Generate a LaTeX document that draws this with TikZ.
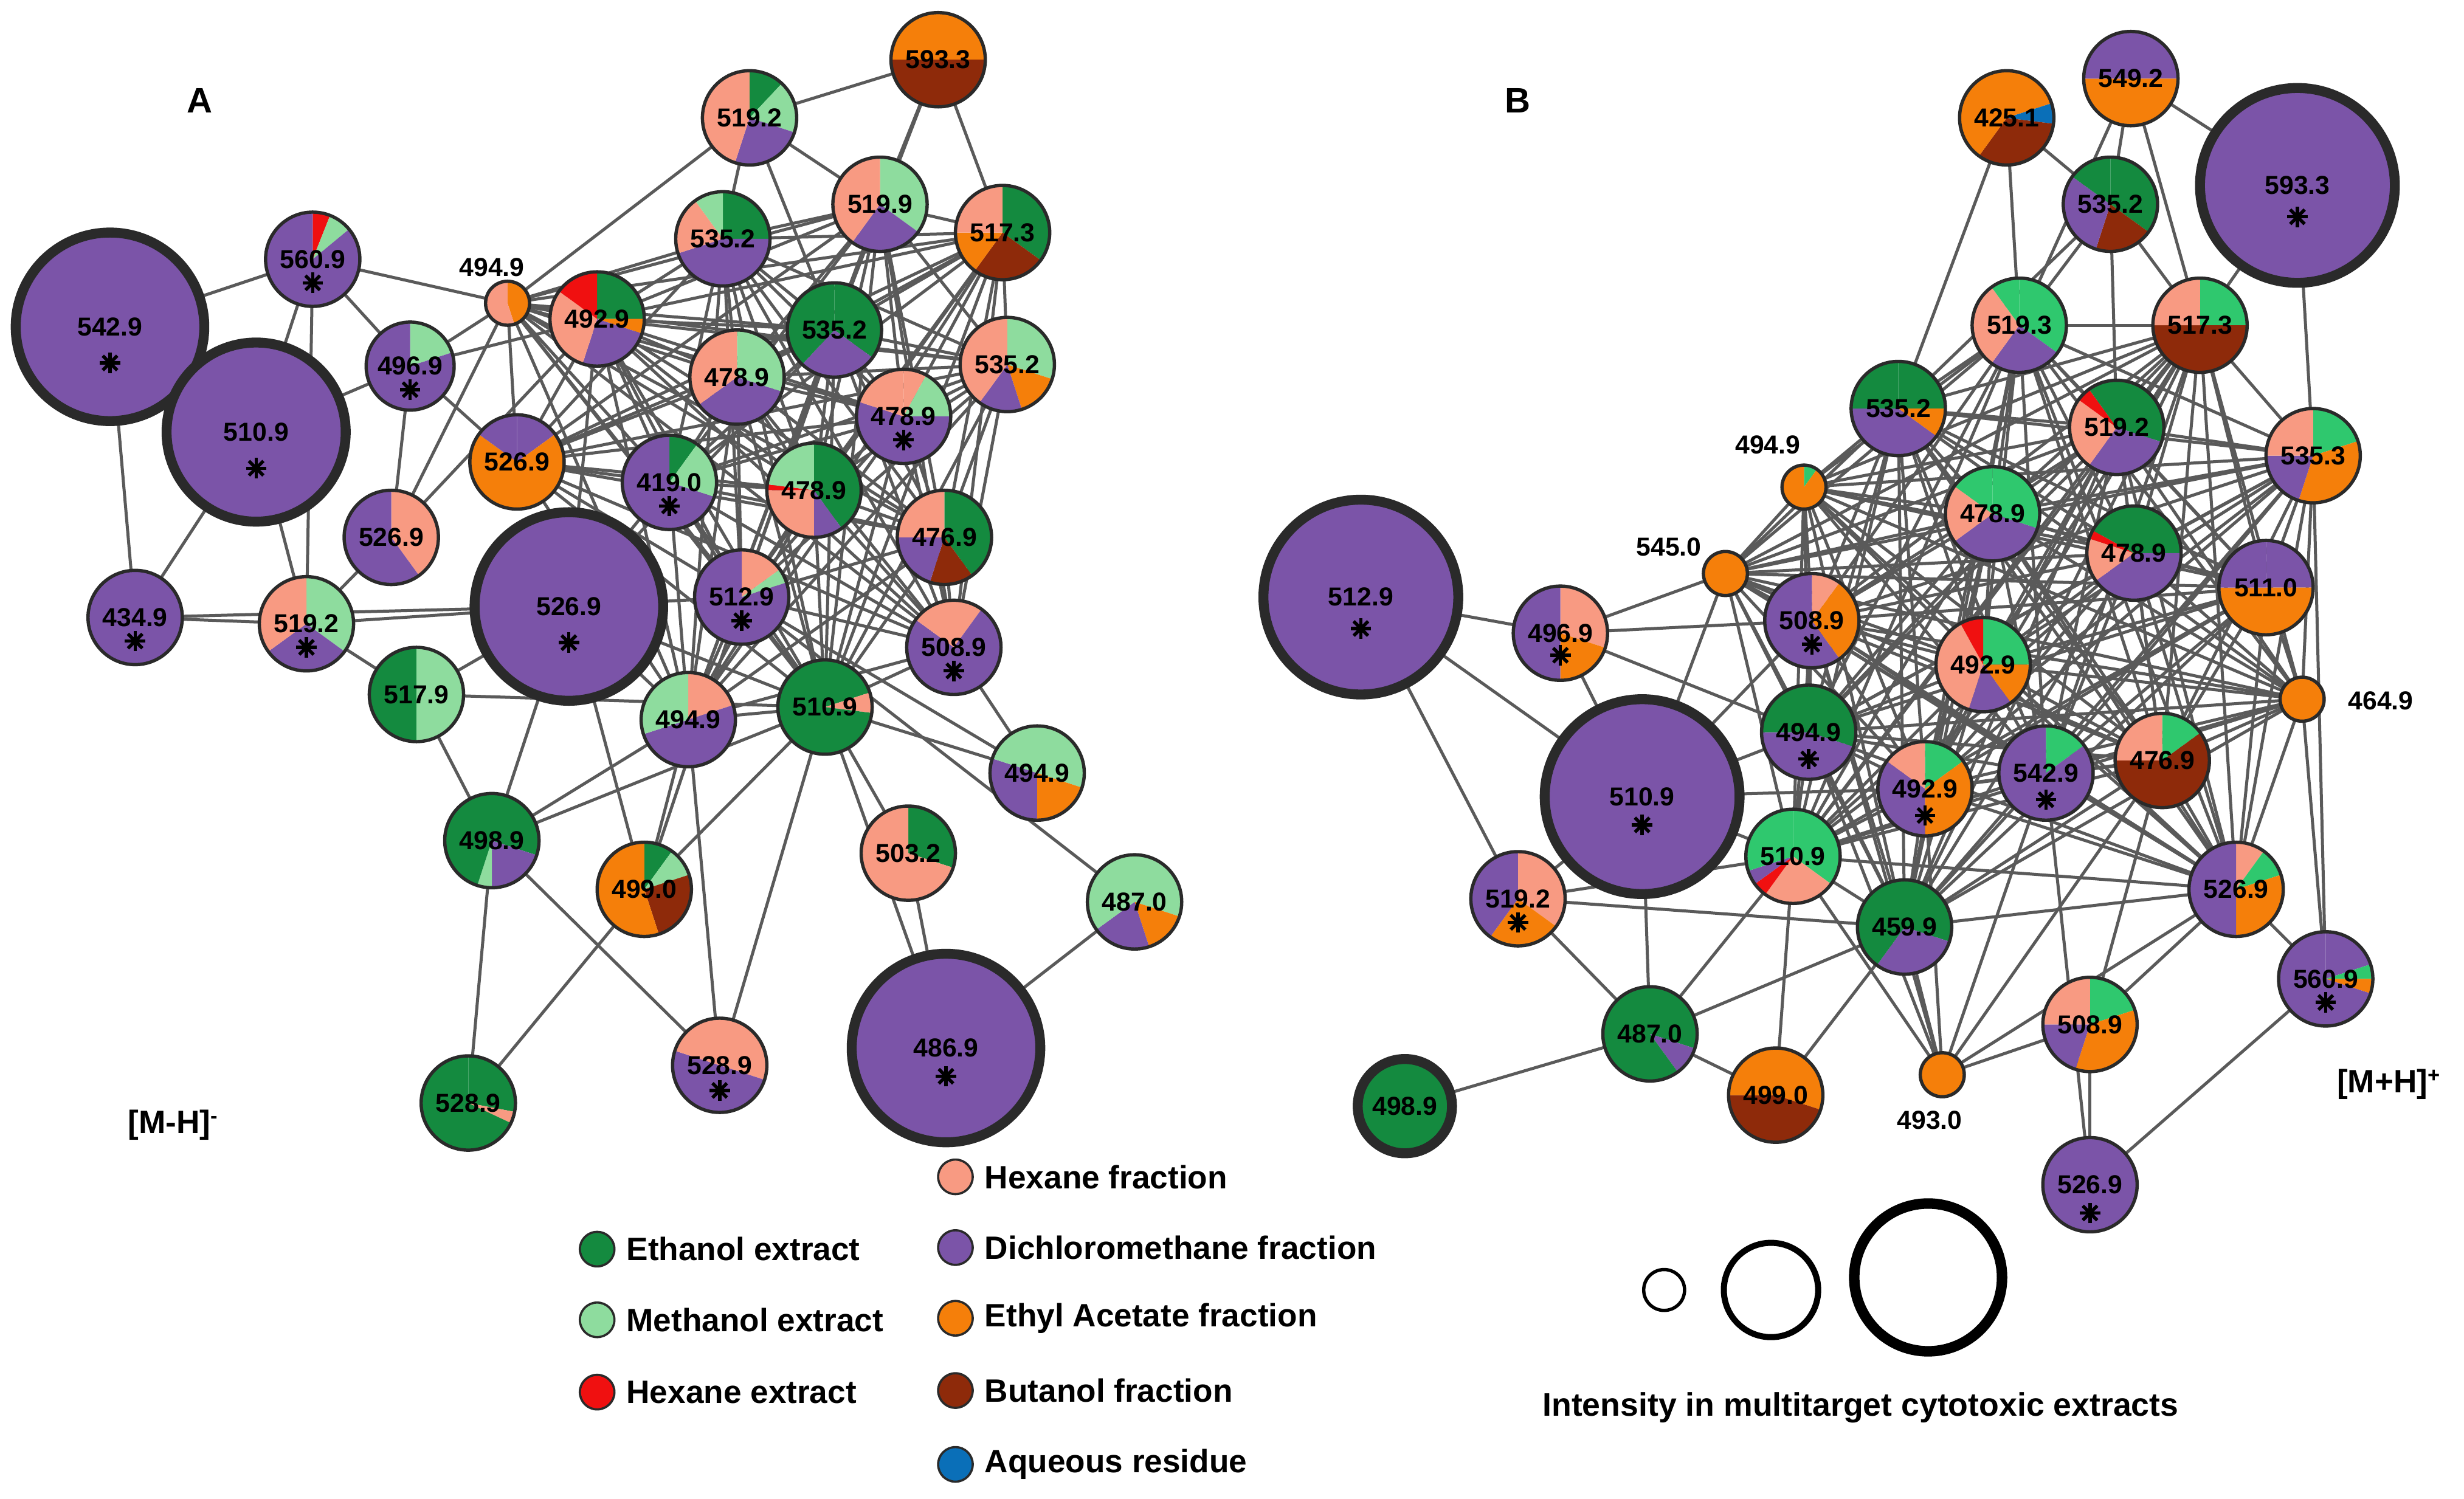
\documentclass[tikz,border=0pt]{standalone}
\usepackage{fontspec}
\setmainfont{Liberation Sans}
\usetikzlibrary{backgrounds}
\definecolor{G}{HTML}{148A3F}
\definecolor{M}{HTML}{8EDC9E}
\definecolor{R}{HTML}{F01010}
\definecolor{S}{HTML}{F89A82}
\definecolor{P}{HTML}{7B54A8}
\definecolor{O}{HTML}{F57F0A}
\definecolor{Br}{HTML}{8E2A0A}
\definecolor{Bl}{HTML}{0A6FB8}
\definecolor{GB}{HTML}{2FC86E}
\definecolor{bd}{HTML}{2A2A2A}
\definecolor{ed}{HTML}{5A5A5A}
\tikzset{
 lab/.style={font=\fontsize{4.7}{5}\selectfont\bfseries,inner sep=0},
 leg/.style={font=\fontsize{5.85}{6}\selectfont\bfseries,anchor=west,inner sep=0},
 spoke/.style={line width=0.6pt,black},
 edge/.style={draw=ed,line width=0.55pt},
}
% #1 name #2 x #3 y #4 r #5 label #6 slices #7 border width #8 star offset
\newcommand\pienode[8]{%
 \begin{scope}[shift={(#2,#3)}]
 \foreach \c/\e [remember=\e as \s (initially 0)] in {#6}{%
   \fill[\c] (0,0) -- (-90+360*\s:#4) arc[start angle=-90+360*\s, end angle=-90+360*\e, radius=#4] -- cycle;}
 \draw[bd,line width=#7] (0,0) circle[radius=#4];
 \end{scope}
 \node[circle,minimum size={2*#4*0.01cm},inner sep=0] (#1) at (#2,#3) {};
 \node[lab] (#1-l) at (#2,#3) {#5};
 \if\relax\detokenize{#8}\relax\else
  \coordinate (#1-s) at (#2,#3+#8);
  \begin{scope}[shift={(#1-s)}]\foreach \a in {0,45,90,135}{\draw[spoke] (\a:6.5)--(\a+180:6.5);}\end{scope}\fi
}
\begin{document}
\begin{tikzpicture}[x=0.01cm,y=-0.01cm]
\useasboundingbox (0,0) rectangle (1568,954);
\def\n{0.6pt}\def\t{1.8pt}
% ---------- Panel A
\pienode{a5429}{70}{208}{60}{542.9}{P/1}{\t}{23}
\pienode{a5109}{163}{275}{57}{510.9}{P/1}{\t}{23}
\pienode{a5609}{199}{165}{30}{560.9}{R/0.06,M/0.14,P/1}{\n}{15}
\pienode{a4969}{261}{233}{28}{496.9}{M/0.2,P/1}{\n}{15}
\pienode{a494s}{323}{193}{14}{}{O/0.45,S/1}{\n}{}
\pienode{a4929}{380}{203}{30}{492.9}{G/0.25,O/0.3,P/0.55,S/0.85,R/1}{\n}{}
\pienode{a5192t}{477}{75}{30}{519.2}{G/0.12,M/0.3,P/0.55,S/1}{\n}{}
\pienode{a5933}{597}{38}{30}{593.3}{O/0.25,Br/0.75,O/1}{\n}{}
\pienode{a5352a}{460}{152}{30}{535.2}{G/0.25,P/0.7,S/0.9,M/1}{\n}{}
\pienode{a5199}{560}{130}{30}{519.9}{M/0.35,P/0.6,S/1}{\n}{}
\pienode{a5173}{638}{148}{30}{517.3}{G/0.35,Br/0.6,O/0.75,S/1}{\n}{}
\pienode{a5352b}{531}{210}{30}{535.2}{G/0.35,P/0.62,G/1}{\n}{}
\pienode{a4789a}{469}{240}{30}{478.9}{M/0.3,P/0.65,S/1}{\n}{}
\pienode{a5352c}{641}{232}{30}{535.2}{M/0.3,O/0.45,P/0.6,S/1}{\n}{}
\pienode{a4789b}{575}{265}{30}{478.9}{S/0.08,M/0.25,P/0.8,S/1}{\n}{15}
\pienode{a5269a}{329}{294}{30}{526.9}{P/0.15,O/0.85,P/1}{\n}{}
\pienode{a4190}{426}{307}{30}{419.0}{G/0.1,M/0.3,P/1}{\n}{15}
\pienode{a4789c}{518}{312}{30}{478.9}{G/0.4,P/0.5,S/0.75,R/0.77,M/1}{\n}{}
\pienode{a4769}{601}{342}{30}{476.9}{G/0.4,Br/0.55,P/0.75,S/1}{\n}{}
\pienode{a5269b}{249}{342}{30}{526.9}{S/0.4,P/1}{\n}{}
\pienode{a5269c}{362}{386}{60}{526.9}{P/1}{\t}{23}
\pienode{a5129}{472}{380}{30}{512.9}{S/0.15,M/0.2,P/1}{\n}{15}
\pienode{a4349}{86}{393}{30}{434.9}{P/1}{\n}{15}
\pienode{a5192}{195}{397}{30}{519.2}{M/0.35,P/0.65,S/1}{\n}{15}
\pienode{a5179}{265}{442}{30}{517.9}{M/0.5,G/1}{\n}{}
\pienode{a5089}{607}{412}{30}{508.9}{S/0.1,P/0.85,S/1}{\n}{15}
\pienode{a4949a}{438}{458}{30}{494.9}{S/0.2,P/0.7,M/1}{\n}{}
\pienode{a5109s}{525}{450}{30}{510.9}{G/0.2,S/0.27,G/1}{\n}{}
\pienode{a4949b}{660}{492}{30}{494.9}{M/0.3,O/0.5,P/0.8,M/1}{\n}{}
\pienode{a4989}{313}{535}{30}{498.9}{G/0.3,P/0.5,M/0.55,G/1}{\n}{}
\pienode{a4990}{410}{566}{30}{499.0}{G/0.1,M/0.2,Br/0.45,O/1}{\n}{}
\pienode{a5032}{578}{543}{30}{503.2}{G/0.3,S/1}{\n}{}
\pienode{a4870}{722}{574}{30}{487.0}{M/0.3,O/0.45,P/0.65,M/1}{\n}{}
\pienode{a4869}{602}{667}{60}{486.9}{P/1}{\t}{18}
\pienode{a5289a}{458}{678}{30}{528.9}{S/0.3,P/0.8,S/1}{\n}{16}
\pienode{a5289b}{298}{702}{30}{528.9}{G/0.28,S/0.32,G/1}{\n}{}
\node[lab] (a494sl) at (313,170) {494.9};
% ---------- Panel B
\pienode{b549}{1356}{50}{30}{549.2}{P/0.25,O/0.75,P/1}{\n}{}
\pienode{b425}{1277}{75}{30}{425.1}{O/0.2,Bl/0.27,Br/0.6,O/1}{\n}{}
\pienode{b593}{1462}{118}{62}{593.3}{P/1}{\t}{20}
\pienode{b535a}{1343}{130}{30}{535.2}{G/0.35,Br/0.55,P/0.85,G/1}{\n}{}
\pienode{b519c}{1285}{207}{30}{519.3}{GB/0.35,P/0.6,S/0.9,GB/1}{\n}{}
\pienode{b517}{1400}{207}{30}{517.3}{GB/0.25,Br/0.75,S/1}{\n}{}
\pienode{b535b}{1208}{260}{30}{535.2}{G/0.25,O/0.35,P/0.75,G/1}{\n}{}
\pienode{b519b}{1347}{272}{30}{519.2}{G/0.3,P/0.6,S/0.85,R/0.9,G/1}{\n}{}
\pienode{b494s}{1148}{310}{14}{}{GB/0.1,O/1}{\n}{}
\pienode{b535c}{1472}{290}{30}{535.3}{GB/0.2,O/0.55,P/0.75,S/1}{\n}{}
\pienode{b545}{1098}{365}{14}{}{O/1}{\n}{}
\pienode{b478a}{1268}{327}{30}{478.9}{GB/0.3,P/0.65,S/0.85,GB/1}{\n}{}
\pienode{b478b}{1358}{352}{30}{478.9}{G/0.25,P/0.65,S/0.8,R/0.83,G/1}{\n}{}
\pienode{b511}{1442}{374}{30}{511.0}{P/0.25,O/0.75,P/1}{\n}{}
\pienode{b512}{866}{380}{62}{512.9}{P/1}{\t}{20}
\pienode{b496}{993}{403}{30}{496.9}{S/0.3,O/0.5,P/1}{\n}{14}
\pienode{b508a}{1153}{395}{30}{508.9}{S/0.1,O/0.4,P/1}{\n}{15}
\pienode{b492a}{1262}{423}{30}{492.9}{GB/0.25,O/0.4,P/0.55,S/0.92,R/1}{\n}{}
\pienode{b464}{1465}{445}{14}{}{O/1}{\n}{}
\pienode{b494}{1151}{466}{30}{494.9}{G/0.3,P/0.75,G/1}{\n}{17}
\pienode{b476}{1376}{484}{30}{476.9}{GB/0.15,Br/0.75,S/1}{\n}{}
\pienode{b510L}{1045}{507}{62}{510.9}{P/1}{\t}{18}
\pienode{b492b}{1225}{502}{30}{492.9}{GB/0.15,O/0.5,P/0.85,S/1}{\n}{17}
\pienode{b542}{1302}{492}{30}{542.9}{GB/0.15,P/1}{\n}{17}
\pienode{b510s}{1141}{545}{30}{510.9}{GB/0.35,S/0.6,R/0.65,P/0.7,GB/1}{\n}{}
\pienode{b519a}{966}{572}{30}{519.2}{S/0.35,O/0.6,P/1}{\n}{15}
\pienode{b459}{1212}{590}{30}{459.9}{G/0.3,P/0.6,G/1}{\n}{}
\pienode{b526a}{1423}{566}{30}{526.9}{S/0.1,GB/0.2,O/0.5,P/1}{\n}{}
\pienode{b560}{1480}{623}{30}{560.9}{P/0.2,GB/0.25,O/0.3,P/1}{\n}{15}
\pienode{b487}{1050}{658}{30}{487.0}{G/0.3,P/0.4,G/1}{\n}{}
\pienode{b499}{1130}{697}{30}{499.0}{O/0.3,Br/0.75,O/1}{\n}{}
\pienode{b493}{1236}{684}{14}{}{O/1}{\n}{}
\pienode{b508b}{1330}{652}{30}{508.9}{GB/0.2,O/0.55,P/0.75,S/1}{\n}{}
\pienode{b498}{894}{704}{30}{498.9}{G/1}{\t}{}
\pienode{b526b}{1330}{754}{30}{526.9}{P/1}{\n}{18}
\node[lab] (b494sl) at (1125,283) {494.9};
\node[lab] (b545l) at (1062,348) {545.0};
\node[lab] (b464l) at (1515,446) {464.9};
\node[lab] (b493l) at (1228,713) {493.0};
% ---------- edges
\begin{pgfonlayer}{background}
\def\cliqA{a4929,a5352a,a5199,a5173,a5352b,a4789a,a5352c,a4789b,a5269a,a4190,a4789c,a4769,a5129,a494s,a4949a,a5109s,a5089}
\foreach \i [count=\k] in \cliqA {\foreach \j [count=\m] in \cliqA {\ifnum\k<\m \draw[edge] (\i)--(\j);\fi}}
\foreach \i/\j in {a5429/a5109,a5429/a5609,a5429/a4349,a5109/a5609,a5109/a4969,a5109/a4349,a5109/a5192,a5609/a4969,a5609/a494s,a5609/a5192,a4969/a494s,a4969/a5269b,a4969/a4929,a4969/a5269a,a4349/a5192,a4349/a5269c,a5192/a5269b,a5192/a5179,a5192/a5269c,a5269b/a4929,a5269b/a494s,a5179/a5269c,a5179/a4989,a5179/a5109s,a494s/a5192t,a5192t/a5352a,a5192t/a5199,a5192t/a5933,a5192t/a5352b,a5933/a5199,a5933/a5173,a5933/a5352b,a5109s/a5032,a5109s/a4949b,a5109s/a4869,a5109s/a4990,a5109s/a4989,a4949a/a4990,a4949a/a4989,a4949a/a5289a,a5269c/a4989,a5269c/a4990,a5269c/a4929,a5269c/a4190,a5269c/a5129,a5269c/a4949a,a5269c/a5109s,a5269c/a5352b,a4989/a5289b,a4989/a5289a,a4990/a5289b,a5032/a4869,a4869/a4870,a4870/a5129,a4949b/a5089,a5129/a4990,a5109s/a5289a,a4949b/a5129}
 {\draw[edge] (\i)--(\j);}
\def\cliqB{b535b,b519c,b517,b519b,b535c,b478a,b478b,b511,b508a,b492a,b494,b476,b492b,b542,b510s,b459,b526a,b494s,b545,b464}
\foreach \i [count=\k] in \cliqB {\foreach \j [count=\m] in \cliqB {\ifnum\k<\m \draw[edge] (\i)--(\j);\fi}}
\foreach \i/\j in {b425/b535a,b425/b519c,b425/b535b,b549/b535a,b549/b593,b549/b517,b549/b519c,b593/b517,b593/b535c,b535a/b519c,b535a/b517,b535a/b519b,b535a/b535b,b512/b496,b512/b519a,b512/b510L,b496/b510L,b496/b508a,b496/b545,b496/b494,b510L/b494,b510L/b519a,b510L/b487,b510L/b510s,b510L/b545,b510L/b492b,b510L/b508a,b519a/b487,b519a/b459,b519a/b510s,b487/b498,b487/b499,b487/b459,b487/b510s,b499/b510s,b499/b459,b493/b459,b493/b508a,b493/b494,b493/b492b,b493/b542,b493/b526a,b493/b508b,b493/b510s,b493/b476,b508b/b526b,b508b/b526a,b526b/b560,b526b/b542,b560/b526a,b560/b464,b560/b535c,b508b/b476}
 {\draw[edge] (\i)--(\j);}
\end{pgfonlayer}
% ---------- titles
\node[font=\fontsize{6.4}{7}\selectfont\bfseries] (tA) at (127,64) {A};
\node[font=\fontsize{6.4}{7}\selectfont\bfseries] (tB) at (966,64) {B};
\node[leg,anchor=center] (mh) at (110,716) {[M-H]\raisebox{0.6ex}{\fontsize{3.8}{4}\selectfont -}};
\node[leg,anchor=center] (ph) at (1520,690) {[M+H]\raisebox{0.6ex}{\fontsize{3.8}{4}\selectfont +}};
% ---------- legend
\foreach \nm/\x/\y/\c/\tx in {l1/608/749/S/Hexane fraction,l2/380/795/G/Ethanol extract,l3/608/794/P/Dichloromethane fraction,l4/380/840/M/Methanol extract,l5/608/839/O/Ethyl Acetate fraction,l6/380/886/R/Hexane extract,l7/608/885/Br/Butanol fraction,l8/608/932/Bl/Aqueous residue}
{\node[circle,fill=\c,draw=bd,line width=0.4pt,minimum size=0.22cm,inner sep=0] (\nm) at (\x,\y) {};
 \node[leg] (\nm-t) at (\x+18,\y) {\tx};}
\node[circle,draw=black,line width=0.6pt,minimum size=0.26cm,inner sep=0] (s1) at (1059,821) {};
\node[circle,draw=black,line width=1.1pt,minimum size=0.6cm,inner sep=0] (s2) at (1127,821) {};
\node[circle,draw=black,line width=1.9pt,minimum size=0.94cm,inner sep=0] (s3) at (1227,813) {};
\node[leg,anchor=center,font=\fontsize{5.9}{6}\selectfont\bfseries] (int) at (1184,896) {Intensity in multitarget cytotoxic extracts};
\end{tikzpicture}
\end{document}
